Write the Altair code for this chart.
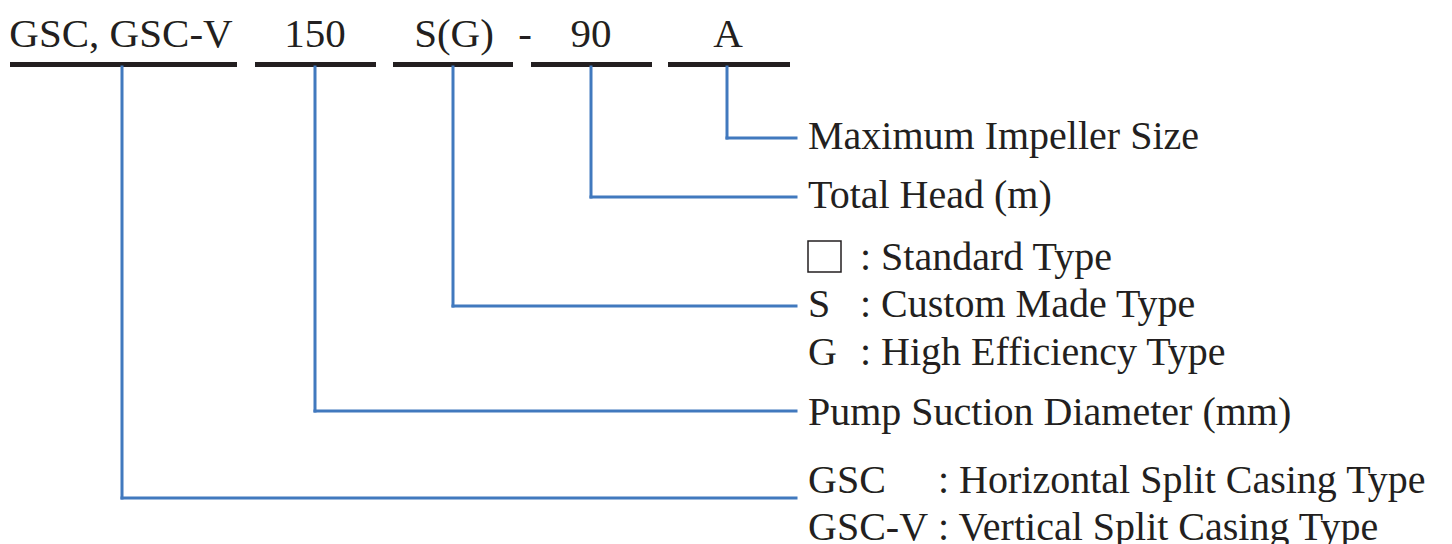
import altair as alt
import pandas as pd

# Top code line
code_parts = ["GSC, GSC-V", "150", "S(G)", "-", "90", "A"]
code_x = [121, 315, 454, 525, 591, 728]
code_y = [47, 47, 47, 47, 47, 47]

# Underline bars under each code part
bar_x1 = [10, 255, 393, 531, 668]
bar_x2 = [237, 376, 513, 652, 790]
bar_y = [64.5, 64.5, 64.5, 64.5, 64.5]

# Blue leader lines: stem x, drop level, branch end
stem_x = [122, 315, 453, 591, 727]
stem_top = [67, 67, 67, 67, 67]
stem_y = [498, 411, 306, 197, 138]
branch_end = [796, 796, 796, 796, 796]

# Explanation labels on the right
label_prefix = ["S", "G", "GSC", "GSC-V"]
prefix_y = [317, 365, 493, 540]
label_text = [
    "Maximum Impeller Size",
    "Total Head (m)",
    ": Standard Type",
    ": Custom Made Type",
    ": High Efficiency Type",
    "Pump Suction Diameter (mm)",
    ": Horizontal Split Casing Type",
    ": Vertical Split Casing Type",
]
label_x = [808, 808, 860, 860, 860, 808, 938, 938]
label_y = [149, 208, 270, 317, 365, 425, 493, 540]

# Empty box symbol for "Standard Type"
box_x = [808]
box_x2 = [841]
box_y = [241]
box_y2 = [272]

BLUE = "#4179be"
INK = "#231f20"
FONT = "Liberation Serif"

xs = alt.Scale(domain=[8, 1444], nice=False, zero=False)
ys = alt.Scale(domain=[8, 544], nice=False, zero=False, reverse=True)

code_df = pd.DataFrame({"t": code_parts, "x": code_x, "y": code_y})
bar_df = pd.DataFrame({"x": bar_x1, "x2": bar_x2, "y": bar_y})
stem_df = pd.DataFrame({"x": stem_x, "y": stem_top, "y2": stem_y, "xe": branch_end})
lab_df = pd.DataFrame({"t": label_text, "x": label_x, "y": label_y})
pre_df = pd.DataFrame({"t": label_prefix, "x": [808] * len(label_prefix), "y": prefix_y})
box_df = pd.DataFrame({"x": box_x, "x2": box_x2, "y": box_y, "y2": box_y2})

code_txt = alt.Chart(code_df).mark_text(
    font=FONT, fontSize=41, align="center", baseline="alphabetic", color=INK
).encode(
    x=alt.X("x:Q", scale=xs, axis=None),
    y=alt.Y("y:Q", scale=ys, axis=None),
    text="t:N",
)

bars = alt.Chart(bar_df).mark_rule(color=INK, strokeWidth=5).encode(
    x=alt.X("x:Q", scale=xs, axis=None),
    x2="x2:Q",
    y=alt.Y("y:Q", scale=ys, axis=None),
)

stems = alt.Chart(stem_df).mark_rule(color=BLUE, strokeWidth=3, strokeCap="square").encode(
    x=alt.X("x:Q", scale=xs, axis=None),
    y=alt.Y("y:Q", scale=ys, axis=None),
    y2="y2:Q",
)

branches = alt.Chart(stem_df).mark_rule(color=BLUE, strokeWidth=3, strokeCap="square").encode(
    x=alt.X("x:Q", scale=xs, axis=None),
    x2="xe:Q",
    y=alt.Y("y2:Q", scale=ys, axis=None),
)

labels = alt.Chart(lab_df).mark_text(
    font=FONT, fontSize=40, align="left", baseline="alphabetic", color=INK
).encode(
    x=alt.X("x:Q", scale=xs, axis=None),
    y=alt.Y("y:Q", scale=ys, axis=None),
    text="t:N",
)

prefixes = alt.Chart(pre_df).mark_text(
    font=FONT, fontSize=40, align="left", baseline="alphabetic", color=INK
).encode(
    x=alt.X("x:Q", scale=xs, axis=None),
    y=alt.Y("y:Q", scale=ys, axis=None),
    text="t:N",
)

box = alt.Chart(box_df).mark_rect(fill="white", stroke=INK, strokeWidth=1.5).encode(
    x=alt.X("x:Q", scale=xs, axis=None),
    x2="x2:Q",
    y=alt.Y("y:Q", scale=ys, axis=None),
    y2="y2:Q",
)

chart = alt.layer(bars, stems, branches, code_txt, labels, prefixes, box).properties(
    width=1436,
    height=536,
    padding=0,
    autosize=alt.AutoSizeParams(type="none"),
    background="white",
).configure_view(stroke=None)

chart.save("out.html", embed_options={"renderer": "svg", "actions": False})
